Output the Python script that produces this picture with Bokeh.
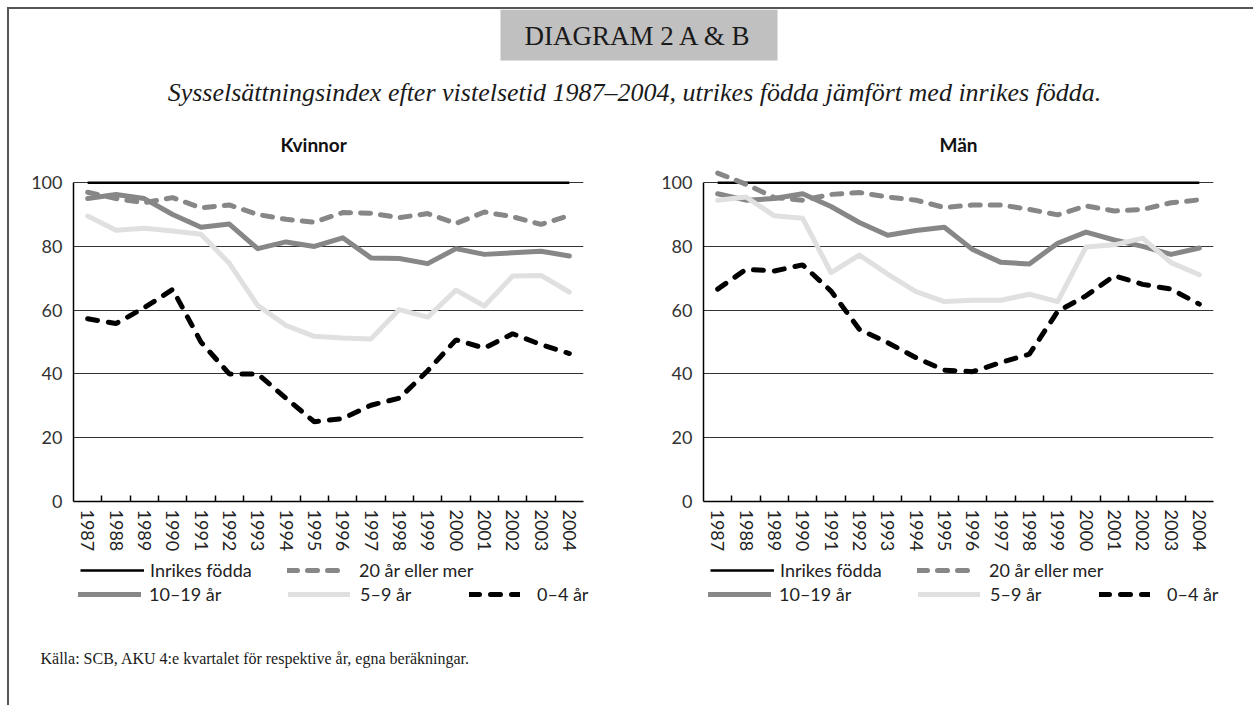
from bokeh.plotting import figure
from bokeh.layouts import column, row
from bokeh.models import FixedTicker, Range1d, Legend, LegendItem, Title, ColumnDataSource
from bokeh.core.properties import value
from bokeh.embed import file_html
from bokeh.resources import INLINE

# ---------------- data ----------------
years = [1987, 1988, 1989, 1990, 1991, 1992, 1993, 1994, 1995,
         1996, 1997, 1998, 1999, 2000, 2001, 2002, 2003, 2004]

series_labels = ["Inrikes födda", "20 år eller mer", "10–19 år", "5–9 år", "0–4 år"]

kv_inrikes = [100, 100, 100, 100, 100, 100, 100, 100, 100,
              100, 100, 100, 100, 100, 100, 100, 100, 100]
kv_20 = [97.0, 95.0, 93.7, 95.3, 92.1, 93.0, 90.0, 88.5, 87.6,
         90.6, 90.4, 89.0, 90.3, 87.2, 90.8, 89.3, 86.9, 89.7]
kv_10 = [95.0, 96.3, 95.0, 90.0, 86.0, 87.0, 79.3, 81.4, 80.0,
         82.7, 76.4, 76.2, 74.6, 79.3, 77.5, 78.0, 78.5, 77.0]
kv_5 = [89.5, 85.1, 85.7, 84.8, 83.8, 74.7, 61.5, 55.2, 51.8,
        51.3, 51.0, 60.2, 57.8, 66.3, 61.3, 70.7, 70.9, 65.7]
kv_0 = [57.3, 55.8, 60.8, 66.5, 50.0, 40.0, 40.0, 32.4, 25.0,
        26.0, 30.2, 32.4, 41.0, 50.7, 48.1, 52.6, 49.2, 46.4]

ma_inrikes = [100, 100, 100, 100, 100, 100, 100, 100, 100,
              100, 100, 100, 100, 100, 100, 100, 100, 100]
ma_20 = [103.0, 99.5, 95.3, 94.5, 96.3, 96.9, 95.5, 94.5, 92.2,
         93.0, 93.0, 91.6, 89.9, 92.7, 91.1, 91.6, 93.7, 94.6]
ma_10 = [96.5, 94.5, 95.0, 96.5, 92.5, 87.5, 83.5, 85.0, 86.0,
         79.0, 75.0, 74.5, 81.0, 84.5, 82.0, 80.0, 77.5, 79.5]
ma_5 = [94.5, 95.5, 89.6, 88.8, 71.8, 77.3, 71.3, 65.8, 62.7,
        63.1, 63.1, 65.0, 62.7, 79.8, 80.5, 82.6, 74.9, 71.1]
ma_0 = [66.6, 72.8, 72.3, 74.2, 66.0, 54.0, 49.8, 45.1, 41.2,
        40.7, 43.6, 46.2, 59.6, 64.5, 70.8, 68.1, 66.6, 61.9]

y_ticks = [0, 20, 40, 60, 80, 100]
grid_ticks = [20, 40, 60, 80, 100]

# ---------------- styles ----------------
SANS = "Lato"
SERIF = "Liberation Serif"
MID = "#878787"
LIGHT = "#e0e0e0"
TXT = "#222222"

styles = [
    dict(line_color="black", line_width=2.5),
    dict(line_color=MID, line_width=5, line_dash="10 10", line_cap="round"),
    dict(line_color=MID, line_width=5, line_cap="round", line_join="round"),
    dict(line_color=LIGHT, line_width=5, line_cap="round", line_join="round"),
    dict(line_color="black", line_width=5, line_dash="10 11", line_cap="round"),
]

# legend placement relative to each chart frame's left edge:
# x, y(bottom, px above legend strip bottom), glyph width, label standoff
leg_pos = [
    (7, 30, 64, 6),
    (214, 30, 53, 19),
    (5, 6, 63, 8),
    (215, 6, 62, 10),
    (396, 6, 51, 17),
]

W = 1244
LEFT_W = 630
RIGHT_W = W - LEFT_W
FRAME_LEFT = 64
CHART_H = 438
LEG_H = 52


def make_chart(title, data, width, bl, br, title_align, title_offset):
    p = figure(width=width, height=CHART_H, output_backend="svg", toolbar_location=None,
               x_range=Range1d(1986.5, 2004.5), y_range=Range1d(0, 106),
               min_border_left=bl, min_border_right=br,
               min_border_top=42, min_border_bottom=CHART_H - 42 - 338)
    p.add_layout(Title(text=title, align=title_align, text_font=SANS, text_font_size="19px",
                       text_font_style="bold", text_color="#111111", offset=title_offset,
                       standoff=16), "above")
    p.outline_line_color = None

    p.xgrid.visible = False
    p.ygrid.ticker = FixedTicker(ticks=grid_ticks)
    p.ygrid.grid_line_color = "#333333"
    p.ygrid.grid_line_width = 1

    xa = p.xaxis[0]
    xa.ticker = FixedTicker(ticks=years, minor_ticks=[y + 0.5 for y in years[:-1]])
    xa.major_tick_in = 0
    xa.major_tick_out = 0
    xa.minor_tick_in = 6
    xa.minor_tick_out = 0
    xa.minor_tick_line_color = "black"
    xa.minor_tick_line_width = 1.5
    xa.axis_line_color = "black"
    xa.axis_line_width = 1.5
    xa.major_label_orientation = "vertical"
    xa.major_label_text_font = SANS
    xa.major_label_text_font_size = "18px"
    xa.major_label_text_color = TXT
    xa.major_label_standoff = 8

    ya = p.yaxis[0]
    ya.ticker = FixedTicker(ticks=y_ticks)
    ya.bounds = (0, 100)
    ya.major_tick_in = 0
    ya.major_tick_out = 0
    ya.minor_tick_in = 0
    ya.minor_tick_out = 0
    ya.axis_line_color = "black"
    ya.axis_line_width = 1.5
    ya.major_label_text_font = SANS
    ya.major_label_text_font_size = "18px"
    ya.major_label_text_color = "#333333"
    ya.major_label_standoff = 11

    for vals, st in zip(data, styles):
        src = ColumnDataSource(dict(x=years, y=vals))
        p.line("x", "y", source=src, **st)
    return p


left = make_chart("Kvinnor", [kv_inrikes, kv_20, kv_10, kv_5, kv_0], LEFT_W, FRAME_LEFT, 56, "left", 207)
right = make_chart("Män", [ma_inrikes, ma_20, ma_10, ma_5, ma_0], RIGHT_W, FRAME_LEFT, 40, "center", 0)

# ---------------- legend strip (both charts) ----------------
legs = figure(width=W, height=LEG_H, output_backend="svg", toolbar_location=None,
              x_range=Range1d(0, 10), y_range=Range1d(0, 10), min_border=0,
              x_axis_location=None, y_axis_location=None)
legs.outline_line_color = None
legs.xgrid.visible = False
legs.ygrid.visible = False
for x0 in (FRAME_LEFT, LEFT_W + FRAME_LEFT):
    for st, lab, (lx, ly, gw, so) in zip(styles, series_labels, leg_pos):
        # off-range proxy line: only its style is used by the legend entry
        r = legs.line(x=[-5, -4], y=[-5, -5], **st)
        leg = Legend(items=[LegendItem(label=lab, renderers=[r])],
                     location=(x0 + lx, ly),
                     glyph_width=gw, glyph_height=20, label_height=20, label_standoff=so,
                     padding=0, margin=0, spacing=0, border_line_color=None,
                     background_fill_alpha=0, label_text_font=SANS,
                     label_text_font_size="18px", label_text_color=TXT)
        legs.add_layout(leg)

# ---------------- header ----------------
head = figure(width=W, height=112, x_range=Range1d(0, W), y_range=Range1d(0, 112),
              output_backend="svg", toolbar_location=None, min_border=0,
              x_axis_location=None, y_axis_location=None)
head.outline_line_color = None
head.xgrid.visible = False
head.ygrid.visible = False
head.quad(left=[491], right=[768], bottom=[61], top=[112], fill_color="#c0c0c0", line_color=None)
head.text(x=[629], y=[86], text=["DIAGRAM 2 A & B"], text_font=value(SERIF),
          text_font_size="27px", text_align="center", text_baseline="middle",
          text_color="#1a1a1a")
head.text(x=[625], y=[29],
          text=["Sysselsättningsindex efter vistelsetid 1987–2004, utrikes födda jämfört med inrikes födda."],
          text_font=value(SERIF), text_font_style="italic", text_font_size="26px",
          text_align="center", text_baseline="middle", text_color="#1a1a1a")

# ---------------- footer ----------------
FOOT_H = 94
foot = figure(width=W, height=FOOT_H, x_range=Range1d(0, W), y_range=Range1d(0, FOOT_H),
              output_backend="svg", toolbar_location=None, min_border=0,
              x_axis_location=None, y_axis_location=None)
foot.outline_line_color = None
foot.xgrid.visible = False
foot.ygrid.visible = False
foot.text(x=[31], y=[47], text=["Källa: SCB, AKU 4:e kvartalet för respektive år, egna beräkningar."],
          text_font=value(SERIF), text_font_size="16px", text_align="left",
          text_baseline="middle", text_color="#1a1a1a")

page = column(head, row(left, right), legs, foot,
              styles={"margin-left": "7px", "margin-top": "7px",
                      "border-left": "2px solid #555555", "border-top": "2px solid #555555"})

open("out.html", "w").write(file_html(page, INLINE))
